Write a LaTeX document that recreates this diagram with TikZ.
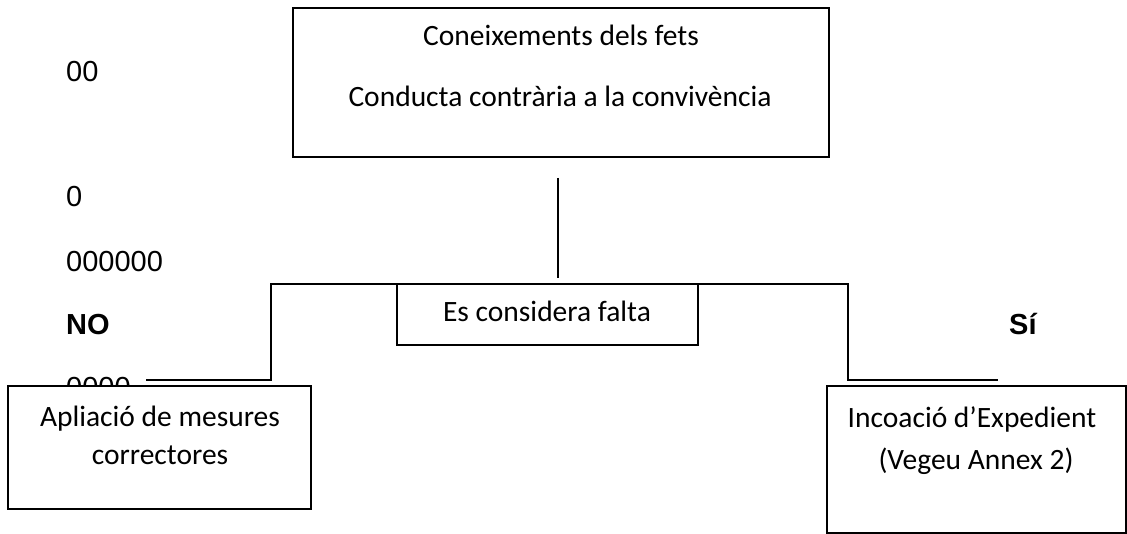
\documentclass[tikz,border=0pt]{standalone}
\usepackage{fontspec}
\setmainfont{Carlito}
\newfontfamily\arialf{Liberation Sans}
\begin{document}
\begin{tikzpicture}[x=1pt,y=-1pt,
  box/.style={draw, line width=1.5pt, fill=white, inner sep=0pt, rectangle},
  txt/.style={font=\fontsize{29.5}{35}\selectfont, inner sep=0pt, anchor=base},
  dig/.style={font=\arialf\fontsize{29}{35}\selectfont, inner sep=0pt, anchor=base west},
  bdig/.style={font=\arialf\bfseries\fontsize{29}{35}\selectfont, inner sep=0pt, anchor=base west},
  conn/.style={line width=1.5pt}]
\useasboundingbox (0,0) rectangle (1127,534);
% side texts
\node[dig] (t00) at (66,82) {00};
\node[dig] (t0) at (66,207) {0};
\node[dig] (t6) at (66,272) {000000};
\node[bdig] (tno) at (66,335) {NO};
\node[bdig] (tsi) at (1009,335) {Sí};
\node[dig] (t4) at (66,398) {0000};
% boxes
\node[box, minimum width=536pt, minimum height=149pt] (top) at (561,82.5) {};
\node[txt] (top1) at (561,46) {Coneixements dels fets};
\node[txt] (top2) at (560,107) {Conducta contrària a la convivència};
\node[box, minimum width=301pt, minimum height=61pt] (falta) at (547.5,314.5) {};
\node[txt] (falta1) at (547,322) {Es considera falta};
\node[box, minimum width=303pt, minimum height=123pt] (left) at (159.5,447.5) {};
\node[txt] (left1) at (160,426) {Apliació de mesures};
\node[txt] (left2) at (160,464) {correctores};
\node[box, minimum width=299pt, minimum height=147pt] (right) at (976.5,459.5) {};
\node[txt] (right1) at (972,427) {Incoació d’Expedient};
\node[txt] (right2) at (976,469) {(Vegeu Annex 2)};
% connectors
\coordinate (vtop) at (558,178);
\coordinate (vbot) at (558,278);
\coordinate (lcorner) at (271,284);
\coordinate (rcorner) at (848,284);
\coordinate (lb) at (146,380);
\coordinate (rb) at (998,380);
\draw[conn] (vtop) -- (vbot);
\draw[conn] (lb) -| (lcorner) -- (rcorner) |- (rb);
\end{tikzpicture}
\end{document}
